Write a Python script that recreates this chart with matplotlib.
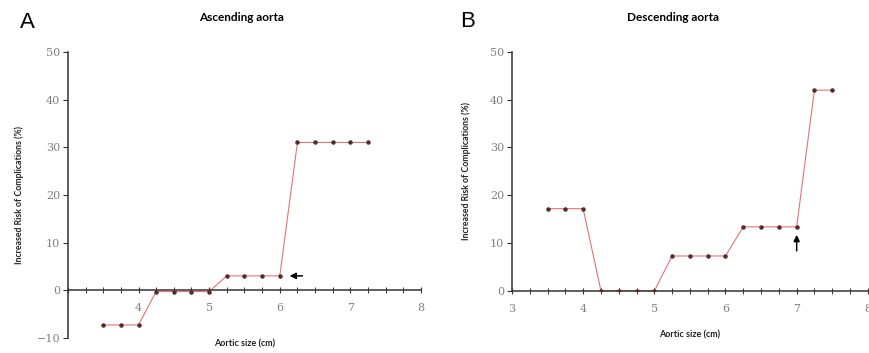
import matplotlib.pyplot as plt
import numpy as np

# aortic size (cm) and increased risk of complications (%)
asc_size = [3.5, 3.75, 4.0, 4.25, 4.5, 4.75, 5.0, 5.25, 5.5, 5.75, 6.0, 6.25, 6.5, 6.75, 7.0, 7.25]
asc_risk = [-7.3, -7.3, -7.3, -0.3, -0.3, -0.3, -0.3, 3.0, 3.0, 3.0, 3.0, 31.0, 31.0, 31.0, 31.0, 31.0]

desc_size = [3.5, 3.75, 4.0, 4.25, 4.5, 4.75, 5.0, 5.25, 5.5, 5.75, 6.0, 6.25, 6.5, 6.75, 7.0, 7.25, 7.5]
desc_risk = [17.2, 17.2, 17.2, 0.0, 0.0, 0.0, 0.0, 7.3, 7.3, 7.3, 7.3, 13.4, 13.4, 13.4, 13.4, 42.0, 42.0]

line_color = '#e27474'
dot_color = '#5a2a2a'
axis_color = '#333333'
tick_color = '#808080'
title_font = 'Lato'


def style_axis(ax, ylim, xlabels):
    ax.spines['top'].set_visible(False)
    ax.spines['right'].set_visible(False)
    ax.spines['bottom'].set_position(('data', 0))
    for s in ['left', 'bottom']:
        ax.spines[s].set_color(axis_color)
        ax.spines[s].set_linewidth(1.1)
    ax.set_xlim(3, 8)
    ax.set_ylim(ylim[0], ylim[1])
    ax.set_xticks(np.arange(3, 9, 1))
    ax.set_xticklabels(xlabels)
    ax.set_xticks(np.arange(3, 8.01, 0.25), minor=True)
    ax.set_yticks(np.arange(ylim[0], ylim[1] + 1, 10))
    ax.tick_params(axis='both', which='major', direction='out', length=3.5, width=0.8,
                   color=axis_color, labelcolor=tick_color, labelsize=8, pad=2)
    ax.tick_params(axis='x', which='minor', direction='inout', length=4, width=0.7, color=axis_color)
    ax.tick_params(axis='x', which='major', direction='inout', length=5, pad=7)
    ax.set_ylabel('Increased Risk of Complications (%)', fontsize=6.3, family=title_font,
                  fontweight='bold', color='#222222')
    for lab in ax.get_xticklabels() + ax.get_yticklabels():
        lab.set_family('DejaVu Serif')


def plot_series(ax, x, y):
    ax.plot(x, y, color=line_color, linewidth=0.8, zorder=2)
    ax.scatter(x, y, s=5, color=dot_color, zorder=3)


fig = plt.figure(figsize=(8.7, 3.53), dpi=100)

# panel A
ax1 = fig.add_axes([0.078, 0.043, 0.406, 0.810])
plot_series(ax1, asc_size, asc_risk)
style_axis(ax1, (-10, 50), ['', '4', '5', '6', '7', '8'])
ax1.yaxis.set_label_coords(-0.125, 0.5)
ax1.annotate('', xy=(6.1, asc_risk[10]), xytext=(6.36, asc_risk[10]),
             arrowprops=dict(arrowstyle='-|>', color='black', lw=1.1, mutation_scale=9))
ax1.text(0.5, -0.005, 'Aortic size (cm)', transform=ax1.transAxes, ha='center', va='top',
         fontsize=6.5, family=title_font, fontweight='bold', color='#222222')

# panel B
ax2 = fig.add_axes([0.5885, 0.176, 0.409, 0.677])
plot_series(ax2, desc_size, desc_risk)
style_axis(ax2, (0, 50), ['3', '4', '5', '6', '7', '8'])
ax2.yaxis.set_label_coords(-0.115, 0.5)
ax2.annotate('', xy=(7.0, 12.3), xytext=(7.0, 7.8),
             arrowprops=dict(arrowstyle='-|>', color='black', lw=1.1, mutation_scale=9))
ax2.set_xlabel('Aortic size (cm)', fontsize=6.5, family=title_font, fontweight='bold',
               color='#222222', labelpad=12)

fig.text(0.278, 0.95, 'Ascending aorta', ha='center', va='center', fontsize=8.5,
         family=title_font, fontweight='bold')
fig.text(0.773, 0.95, 'Descending aorta', ha='center', va='center', fontsize=8.5,
         family=title_font, fontweight='bold')
fig.text(0.031, 0.935, 'A', ha='center', va='center', fontsize=16, family='Liberation Sans')
fig.text(0.537, 0.94, 'B', ha='center', va='center', fontsize=16, family='Liberation Sans')

plt.savefig('out.png', dpi=100)
